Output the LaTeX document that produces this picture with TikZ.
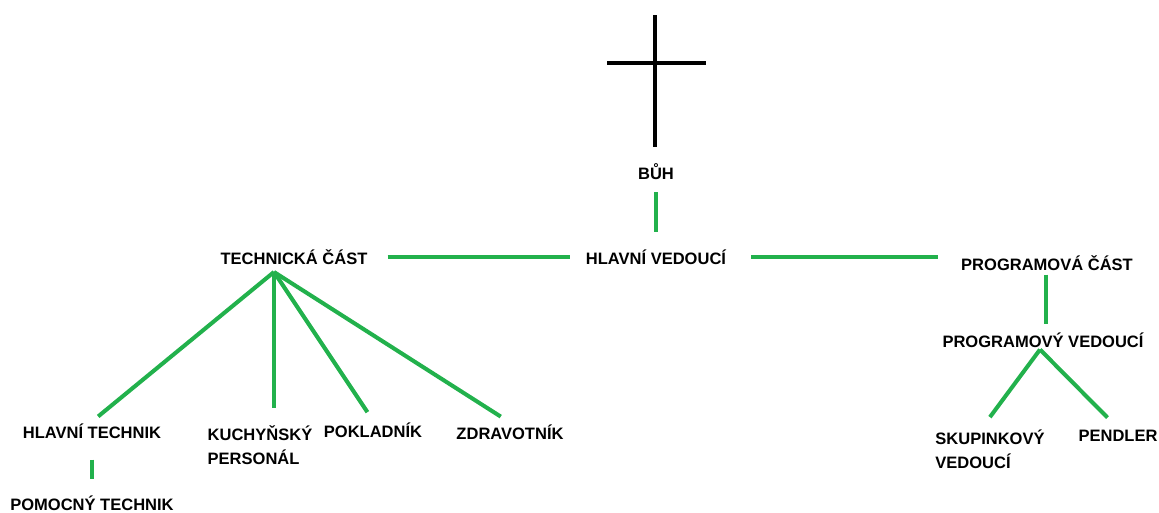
\documentclass[tikz,border=0pt]{standalone}
\usepackage{fontspec}
\setmainfont{Liberation Sans}
\usetikzlibrary{positioning}
\definecolor{paintgreen}{RGB}{34,177,76}

\begin{document}
\begin{tikzpicture}[
    x=0.02cm, y=-0.02cm,
    every node/.style = {font=\bfseries\fontsize{9.4}{13.6}\selectfont, inner sep=1pt, align=left},
    every edge/.style = {draw=paintgreen, line width=2.3pt}
]
    \useasboundingbox (0,0) rectangle (1159,512);

    % cross
    \draw[line width=2pt] (655,15) -- (655,147)
        (607,63) -- (706,63);

    \node (buh) at (656,172) {BŮH};
    \node (hv) at (656,257) {HLAVNÍ VEDOUCÍ};
    \node (tc) at (294,257) {TECHNICKÁ ČÁST};
    \node (pc) at (1047,263) {PROGRAMOVÁ ČÁST};
    \node (pv) at (1043,340) {PROGRAMOVÝ VEDOUCÍ};
    \node (sv) at (990,449) {SKUPINKOVÝ\\VEDOUCÍ};
    \node (pendler) at (1118,436) {PENDLER};
    \node (ht) at (92,431) {HLAVNÍ TECHNIK};
    \node (kp) at (260,445) {KUCHYŇSKÝ\\PERSONÁL};
    \node (pokl) at (373,430) {POKLADNÍK};
    \node (zdr) at (510,432) {ZDRAVOTNÍK};
    \node (pt) at (92,503) {POMOCNÝ TECHNIK};
    \coordinate (tcfan) at (274,272);

    \draw (buh) edge[shorten <=0.2cm, shorten >=0.32cm] (hv)
        (tc) edge[shorten <=0.36cm, shorten >=0.28cm] (hv)
        (hv.east) edge[shorten <=0.46cm, shorten >=0.42cm] (pc.west |- hv.east)
        (pc.south -| 1046,0) edge[shorten <=0.04cm, shorten >=0.14cm] (pv.north -| 1046,0)
        ([xshift=-0.06cm]pv.south) edge[shorten >=0.26cm] (sv.110)
            edge[shorten >=0.3cm] (pendler.north)
        (tcfan) edge[shorten >=0.16cm] (ht.north)
            edge[shorten >=0.3cm] (tcfan |- kp.north)
            edge[shorten >=0.2cm] (pokl.north)
            edge[shorten >=0.22cm] (zdr.north)
        (ht) edge[shorten <=0.38cm, shorten >=0.3cm] (pt);
\end{tikzpicture}
\end{document}
